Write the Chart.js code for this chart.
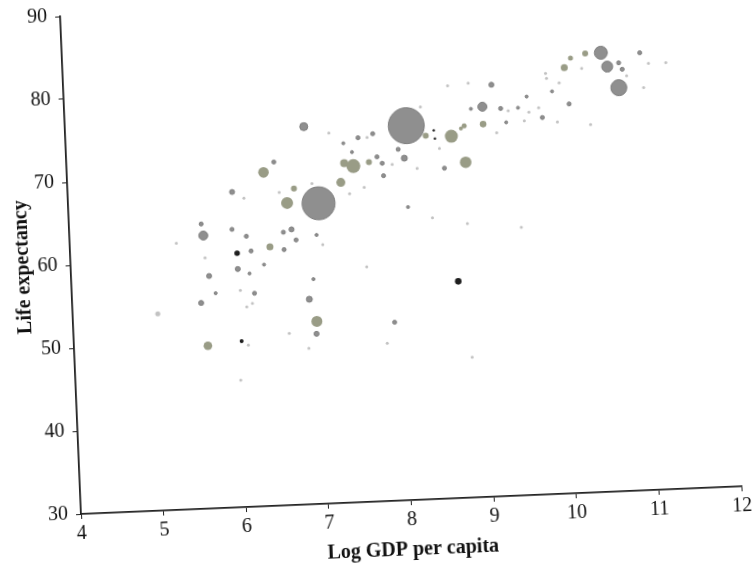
<!DOCTYPE html>
<html>
<head>
<meta charset="utf-8">
<script src="https://cdn.jsdelivr.net/npm/chart.js@4.4.0/dist/chart.umd.min.js"></script>
<style>
  html, body { margin: 0; padding: 0; background: #fff; width: 752px; height: 563px; overflow: hidden; }
  #wrap { position: absolute; left: 0; top: 0; }
</style>
</head>
<body>
<div id="wrap"><canvas id="chart" width="744" height="584"></canvas></div>
<script>
// tick labels
const xTicks = [4, 5, 6, 7, 8, 9, 10, 11, 12];
const yTicks = [30, 40, 50, 60, 70, 80, 90];

// olive bubbles
const oliveGdp  = [7.36, 7.47, 7.66, 6.38, 6.74, 6.65, 7.31, 6.42, 6.95, 5.62, 10.33, 10.15, 10.07, 9.06, 8.83, 8.79, 8.67, 8.36, 8.83];
const oliveLife = [70.9, 70.5, 70.9, 70.2, 68.1, 66.4, 68.6, 61.2, 52.0, 49.6, 82.9, 82.4, 81.3, 74.9, 74.8, 74.5, 73.6, 73.8, 70.4];
const oliveSize = [4, 7, 3, 5.3, 3, 6, 4.5, 3.5, 5.5, 4.3, 3, 2.5, 3.5, 3.3, 2.5, 2, 6.5, 3, 5.8];

// grey bubbles
const greyGdp  = [6.89, 7.36, 7.54, 7.72, 7.46, 7.76, 7.82, 7.83, 8.13, 8.02, 6.51, 7.03, 5.99, 5.60, 5.62, 5.97, 6.14, 6.19,
                  6.59, 6.69, 6.74, 6.59, 6.99, 6.34, 6.02, 6.16, 5.67, 6.93, 5.74, 5.56, 6.21, 6.87, 6.94, 7.89,
                  10.52, 10.59, 10.73, 10.77, 10.72, 10.99, 9.91, 10.11, 9.18, 9.06, 8.92, 9.28, 9.49, 9.60, 9.78, 9.34,
                  8.09, 8.57, 8.11];
const greyLife = [75.5, 73.3, 73.9, 74.3, 72.2, 71.5, 70.7, 69.2, 75.1, 72.3, 71.4, 66.2, 68.0, 64.3, 62.9, 63.5, 62.6, 60.8,
                  62.9, 63.2, 61.9, 60.8, 62.4, 59.1, 58.7, 58.1, 58.0, 57.1, 55.9, 54.8, 55.7, 54.7, 50.5, 51.5,
                  82.9, 81.2, 81.6, 80.8, 78.6, 82.7, 78.5, 76.9, 79.6, 77.0, 76.8, 76.7, 76.7, 78.0, 75.4, 75.0,
                  71.2, 69.8, 65.3];
const greySize = [4, 1.5, 2, 2, 1.5, 2, 2, 2, 18, 2, 2, 16.5, 2.5, 2, 4.5, 2, 2, 2,
                  2, 2.5, 2, 2, 1.5, 1.5, 2.5, 1.5, 2.5, 1.5, 1.5, 2.5, 2, 3, 2.5, 2,
                  6.5, 5.5, 2, 2, 8, 2, 1.5, 2, 2.5, 4.5, 1.5, 2, 1.5, 1.5, 2, 1.5,
                  3, 2, 1.5];

// black bubbles
const blackGdp  = [6.02, 6.03, 8.68, 8.46, 8.47];
const blackLife = [60.6, 50.0, 56.1, 74.4, 73.4];
const blackSize = [2.8, 2, 3.3, 1.2, 1.2];

// faint tiny bubbles
const faintGdp  = [7.19, 7.65, 7.94, 6.56, 6.96, 7.41, 7.59, 6.13, 5.29, 7.06, 5.63, 7.58, 6.04, 6.18, 6.11, 6.84, 6.61, 6.11,
                   6.00, 7.79, 8.81, 5.03, 10.28, 11.09, 11.30, 10.82, 11.02, 9.84, 9.85, 10.00, 10.36, 9.96, 8.65, 8.90,
                   9.37, 9.62, 9.74, 9.56, 9.22, 8.52, 8.31, 8.24, 8.40, 8.82, 9.47];
const faintLife = [74.6, 73.9, 70.5, 67.7, 68.6, 67.2, 67.9, 67.2, 62.1, 61.2, 60.2, 58.3, 56.1, 54.5, 54.1, 48.8, 50.7, 49.5,
                   45.3, 49.0, 46.9, 53.7, 81.1, 81.4, 81.4, 80.0, 78.5, 80.7, 80.1, 79.5, 74.3, 74.8, 79.7, 79.9,
                   76.4, 76.1, 76.6, 75.1, 73.8, 72.2, 77.3, 69.9, 63.9, 63.0, 62.3];
const faintSize = [1.5, 1.5, 1.5, 1.5, 1.5, 1.5, 1.5, 1.5, 1.5, 1.5, 1.5, 1.5, 1.5, 1.5, 1.5, 1.5, 1.5, 1.5,
                   1.5, 1.5, 1.5, 2.5, 1.5, 1.5, 1.5, 1.5, 1.5, 1.5, 1.5, 1.5, 1.5, 1.5, 1.5, 1.5,
                   1.5, 1.5, 1.5, 1.5, 1.5, 1.5, 1.5, 1.5, 1.5, 1.5, 1.5];

function toPoints(xs, ys, rs) {
    return xs.map((x, i) => ({ x: x, y: ys[i], r: rs[i] }));
}

const serif = "'Liberation Serif', 'DejaVu Serif', serif";

const chart = new Chart(document.getElementById('chart'), {
    type: 'bubble',
    data: {
        datasets: [
            { label: 'faint', data: toPoints(faintGdp, faintLife, faintSize), backgroundColor: '#c2c2c2', borderWidth: 0 },
            { label: 'grey', data: toPoints(greyGdp, greyLife, greySize), backgroundColor: '#8f8f8f', borderColor: '#7e7e7e', borderWidth: 1 },
            { label: 'olive', data: toPoints(oliveGdp, oliveLife, oliveSize), backgroundColor: '#999c86', borderWidth: 0 },
            { label: 'black', data: toPoints(blackGdp, blackLife, blackSize), backgroundColor: '#1e1e1e', borderWidth: 0 }
        ]
    },
    options: {
        responsive: false,
        animation: false,
        layout: { padding: { left: 0, right: 20, top: 20, bottom: 0 } },
        plugins: { legend: { display: false }, tooltip: { enabled: false } },
        scales: {
            x: {
                type: 'linear', min: 4, max: 12,
                afterFit: (s) => { s.height = 66; },
                afterBuildTicks: (s) => { s.ticks = xTicks.map(v => ({ value: v })); },
                grid: { display: true, drawOnChartArea: false, drawTicks: true, tickLength: 5, color: '#222' },
                border: { display: true, color: '#222', width: 1.8 },
                ticks: { color: '#111', padding: 3, font: { family: serif, size: 20 } },
                title: { display: true, text: 'Log GDP per capita', color: '#111', padding: { top: 4, bottom: 4 },
                         font: { family: serif, size: 20, weight: 'bold' } }
            },
            y: {
                type: 'linear', min: 30, max: 90,
                afterFit: (s) => { s.width = 63; },
                afterBuildTicks: (s) => { s.ticks = yTicks.map(v => ({ value: v })); },
                grid: { display: true, drawOnChartArea: false, drawTicks: true, tickLength: 5, color: '#222' },
                border: { display: true, color: '#222', width: 1.8 },
                ticks: { color: '#111', padding: 8, font: { family: serif, size: 20 } },
                title: { display: true, text: 'Life expectancy', color: '#111', padding: { top: 4, bottom: 4 },
                         font: { family: serif, size: 20, weight: 'bold' } }
            }
        }
    }
});

// the printed figure is slightly tilted: pin the axis origin and rotate around it
const area = chart.chartArea;
const wrap = document.getElementById('wrap');
wrap.style.left = (81 - area.left) + 'px';
wrap.style.top = (514 - area.bottom) + 'px';
wrap.style.transformOrigin = area.left + 'px ' + area.bottom + 'px';
wrap.style.transform = 'rotate(-2.4deg)';
</script>
</body>
</html>
